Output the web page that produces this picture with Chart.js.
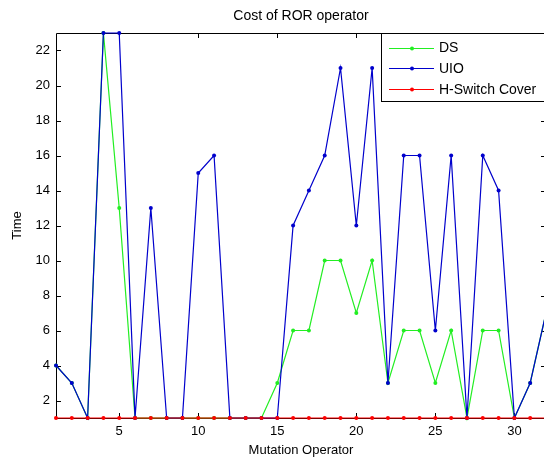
<!DOCTYPE html>
<html>
  <head>
    <script src="https://cdn.jsdelivr.net/npm/chart.js@4"></script>
    <style>
      html, body { margin: 0; padding: 0; background: #fff; overflow: hidden; }
      #wrap { width: 560px; height: 462px; }
    </style>
  </head>
  <body>
    <div id="wrap"><canvas id="myChart" width="560" height="462"></canvas></div>

    <script>
      // values
      var operators = [1,2,3,4,5,6,7,8,9,10,11,12,13,14,15,16,17,18,19,20,21,22,23,24,25,26,27,28,29,30,31,32]
      var ds   = [4,3,1,23,13,1,1,1,1,1,1,1,1,1,3,6,6,10,10,7,10,3,6,6,3,6,1,6,6,1,3,7]
      var uio  = [4,3,1,23,23,1,13,1,1,15,16,1,1,1,1,12,14,16,21,12,21,3,16,16,6,16,1,16,14,1,3,7]
      var hsw  = [1,1,1,1,1,1,1,1,1,1,1,1,1,1,1,1,1,1,1,1,1,1,1,1,1,1,1,1,1,1,1,1]
      var xTicks = [5,10,15,20,25,30]
      var yTicks = [2,4,6,8,10,12,14,16,18,20,22]

      function pts(vals) {
        return vals.map(function (v, i) { return { x: operators[i], y: v } })
      }

      var FONT = 'Liberation Sans, Arial, sans-serif'

      // matlab style box, inward ticks and legend inside the axes
      var matlabAxes = {
        id: 'matlabAxes',
        beforeDatasetsDraw: function (chart) {
          var ctx = chart.ctx, a = chart.chartArea
          var x = chart.scales.x, y = chart.scales.y
          ctx.save()
          ctx.strokeStyle = '#000'
          ctx.lineWidth = 1
          ctx.beginPath()
          ctx.rect(Math.round(a.left) + 0.5, Math.round(a.top) + 0.5,
                   Math.round(a.right - a.left), Math.round(a.bottom - a.top))
          xTicks.forEach(function (t) {
            var px = Math.round(x.getPixelForValue(t)) + 0.5
            ctx.moveTo(px, a.bottom); ctx.lineTo(px, a.bottom - 5)
            ctx.moveTo(px, a.top); ctx.lineTo(px, a.top + 5)
          })
          yTicks.forEach(function (t) {
            var py = Math.round(y.getPixelForValue(t)) + 0.5
            ctx.moveTo(a.left, py); ctx.lineTo(a.left + 5, py)
            ctx.moveTo(a.right, py); ctx.lineTo(a.right - 5, py)
          })
          ctx.stroke()
          ctx.restore()
        },
        afterDraw: function (chart) {
          var ctx = chart.ctx
          var bx = 381, by = 33, bw = 168, bh = 68
          ctx.save()
          ctx.fillStyle = '#fff'
          ctx.fillRect(bx, by, bw, bh)
          ctx.strokeStyle = '#000'
          ctx.lineWidth = 1
          ctx.strokeRect(bx + 0.5, by + 0.5, bw, bh)
          ctx.font = '14px ' + FONT
          ctx.textBaseline = 'middle'
          chart.data.datasets.forEach(function (d, i) {
            var ry = by + 14.5 + i * 20.7
            ctx.strokeStyle = d.borderColor
            ctx.beginPath()
            ctx.moveTo(389, Math.round(ry) + 0.5)
            ctx.lineTo(434, Math.round(ry) + 0.5)
            ctx.stroke()
            ctx.fillStyle = d.borderColor
            ctx.beginPath()
            ctx.arc(412, Math.round(ry) + 0.5, 2, 0, Math.PI * 2)
            ctx.fill()
            ctx.fillStyle = '#000'
            ctx.fillText(d.label, 439, ry + 1)
          })
          ctx.restore()
        }
      }

      // order: lower number is drawn on top (DS under UIO under H-Switch)
      function series(label, color, vals, order) {
        return {
          label: label,
          data: pts(vals),
          order: order,
          borderColor: color,
          backgroundColor: color,
          borderWidth: 1.2,
          pointRadius: 2,
          pointHoverRadius: 2,
          pointBorderWidth: 0,
          tension: 0,
          clip: false
        }
      }

      var ctx = document.getElementById('myChart').getContext('2d')
      var chart = new Chart(ctx, {
        type: 'line',
        data: {
          datasets: [
            series('DS', '#22ee22', ds, 3),
            series('UIO', '#0000cc', uio, 2),
            series('H-Switch Cover', '#ff0000', hsw, 1)
          ]
        },
        options: {
          responsive: false,
          animation: false,
          events: [],
          layout: { padding: { left: 0, right: 14, top: 0, bottom: 0 } },
          plugins: {
            legend: { display: false },
            tooltip: { enabled: false },
            title: {
              display: true,
              text: 'Cost of ROR operator',
              fullSize: false,
              color: '#000',
              font: { family: FONT, size: 14, weight: 'normal', lineHeight: 1.2 },
              padding: { top: 8, bottom: 8.2 }
            }
          },
          scales: {
            x: {
              type: 'linear',
              min: 1,
              max: 32,
              grid: { display: false, drawTicks: false },
              border: { display: false },
              afterBuildTicks: function (s) { s.ticks = xTicks.map(function (v) { return { value: v } }) },
              afterFit: function (s) { s.height = 44 },
              ticks: { color: '#000', padding: 6, maxRotation: 0, autoSkip: false,
                       font: { family: FONT, size: 13 } },
              title: { display: true, text: 'Mutation Operator', color: '#000',
                       font: { family: FONT, size: 13, lineHeight: 1.2 },
                       padding: { top: 0, bottom: 4 } }
            },
            y: {
              min: 1,
              max: 23,
              grid: { display: false, drawTicks: false },
              border: { display: false },
              afterBuildTicks: function (s) { s.ticks = yTicks.map(function (v) { return { value: v } }) },
              afterFit: function (s) { s.width = 56 },
              ticks: { color: '#000', padding: 6, autoSkip: false,
                       font: { family: FONT, size: 13 } },
              title: { display: true, text: 'Time', color: '#000',
                       font: { family: FONT, size: 13, lineHeight: 1.2 },
                       padding: { top: 10, bottom: 0 } }
            }
          }
        },
        plugins: [matlabAxes]
      })
    </script>
  </body>
</html>
